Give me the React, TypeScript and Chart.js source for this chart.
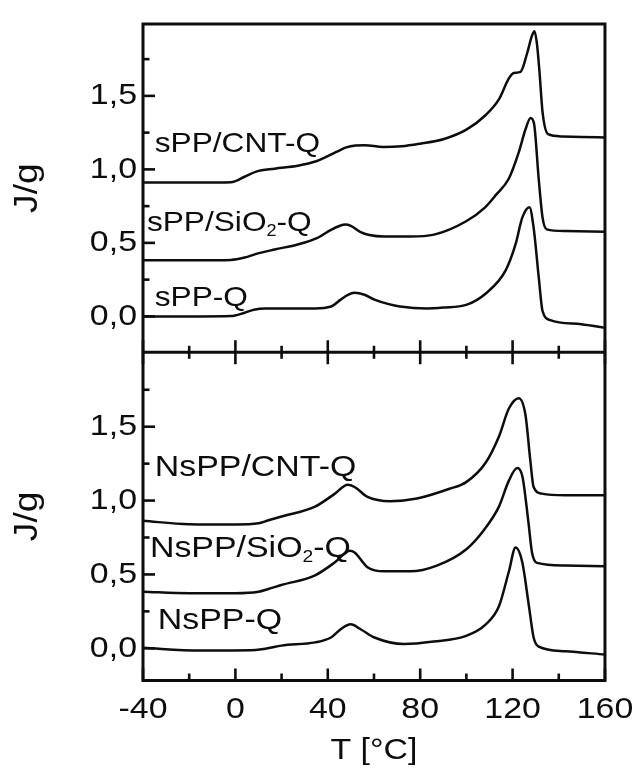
import React, { useEffect, useRef } from 'react';
import { Chart, registerables } from 'chart.js';

Chart.register(...registerables);

// ---------- axis ticks ----------
const xTickValues = [-40, 0, 40, 80, 120, 160];
const xTickLabels = ['-40', '0', '40', '80', '120', '160'];
const xMinorTicks = [-20, 20, 60, 100, 140];
const yTickValues = [0, 0.5, 1, 1.5];
const yTickLabels = ['0,0', '0,5', '1,0', '1,5'];
const yMinorTicks = [0.25, 0.75, 1.25, 1.75];

// ---------- top panel ----------
const sppCntT = [-40, -15, -2, 4, 9, 17, 27, 35, 40, 44, 48, 52, 56, 64, 72, 80, 90, 100, 108.4, 114, 118.4, 120.5, 123.4, 126.3, 128.4, 129.5, 130.5, 131.6, 133, 135.4, 141.3, 150, 160];
const sppCntY = [0.911, 0.911, 0.913, 0.95, 0.985, 1.005, 1.025, 1.055, 1.09, 1.12, 1.15, 1.163, 1.165, 1.152, 1.157, 1.175, 1.205, 1.27, 1.37, 1.474, 1.619, 1.656, 1.663, 1.79, 1.91, 1.94, 1.86, 1.674, 1.386, 1.239, 1.224, 1.22, 1.217];

const sppSiT = [-40, -15, -2, 4, 9, 17, 27, 35, 41.4, 45, 47.5, 50, 54, 58, 64.5, 75.6, 86, 99.9, 108, 113, 118.4, 122.7, 125.6, 127.8, 129.3, 131.3, 133, 134.8, 142.7, 160];
const sppSiY = [0.382, 0.382, 0.384, 0.4, 0.425, 0.455, 0.489, 0.53, 0.589, 0.615, 0.625, 0.616, 0.575, 0.553, 0.543, 0.543, 0.556, 0.647, 0.74, 0.83, 0.938, 1.117, 1.273, 1.35, 1.31, 0.938, 0.67, 0.592, 0.581, 0.576];

const sppT = [-40, -15, -2, 4, 8, 13, 34.5, 41.4, 45.6, 48.5, 51.6, 55.9, 60.2, 66, 71.3, 82.9, 90, 99.9, 108.4, 117, 121.3, 124.2, 127.3, 129.1, 131.3, 133, 136.3, 149.8, 160];
const sppY = [0, 0, 0.002, 0.025, 0.045, 0.054, 0.054, 0.067, 0.114, 0.145, 0.161, 0.147, 0.114, 0.085, 0.067, 0.054, 0.06, 0.078, 0.156, 0.313, 0.491, 0.672, 0.743, 0.605, 0.27, 0.035, -0.025, -0.054, -0.077];

// ---------- bottom panel ----------
const nsppCntT = [-40, -20, 0, 10, 14, 20, 34.5, 43.1, 48.6, 51.6, 57.2, 67, 78.6, 92.7, 99.9, 108.4, 114.1, 118.4, 122.7, 125.6, 127.7, 129.1, 132.7, 142.7, 160];
const nsppCntY = [0.863, 0.84, 0.838, 0.846, 0.865, 0.892, 0.959, 1.047, 1.107, 1.092, 1.025, 0.996, 1.014, 1.08, 1.125, 1.258, 1.434, 1.623, 1.693, 1.578, 1.268, 1.092, 1.047, 1.036, 1.036];

const nsppSiT = [-40, -20, 0, 10, 14, 19.9, 34.5, 43.1, 49.5, 51.6, 57.2, 64.5, 75.6, 87.2, 100, 107.7, 114.1, 118.4, 122, 124.3, 126.9, 128.4, 130.6, 142.7, 160];
const nsppSiY = [0.383, 0.373, 0.373, 0.383, 0.4, 0.428, 0.494, 0.582, 0.66, 0.649, 0.549, 0.521, 0.521, 0.56, 0.671, 0.803, 0.959, 1.135, 1.22, 1.16, 0.848, 0.649, 0.578, 0.56, 0.556];

const nsppT = [-40, -15.6, 8.8, 14, 19.9, 34.5, 41.4, 45.6, 49.9, 54.2, 60.2, 73, 85.9, 99.9, 108.4, 114.1, 118.4, 121.3, 124.2, 127, 129.1, 131.3, 142.7, 160];
const nsppY = [0.003, -0.015, -0.011, 0, 0.018, 0.04, 0.073, 0.129, 0.162, 0.129, 0.073, 0.029, 0.046, 0.084, 0.162, 0.284, 0.52, 0.682, 0.582, 0.295, 0.073, 0.011, -0.02, -0.042];

// ---------- curve labels ----------
const labelParts = [
  ['sPP/CNT-Q'],
  ['sPP/SiO', '2', '-Q'],
  ['sPP-Q'],
  ['NsPP/CNT-Q'],
  ['NsPP/SiO', '2', '-Q'],
  ['NsPP-Q'],
];
const labelT = [-34.9, -38.3, -34.9, -34.9, -37.0, -33.6];
const labelV = [1.119, 0.584, 0.069, 1.163, 0.617, 0.131];
const labelAxis = ['yTop', 'yTop', 'yTop', 'yBot', 'yBot', 'yBot'];
const labelSize = [28, 28, 28, 30, 30, 30];

const INK = '#0d0d0d';
const FONT = '"Liberation Sans", Arial, Helvetica, sans-serif';
const TEXT_STRETCH = 1.13;

function pts(t: number[], y: number[]) {
  return t.map((v, i) => ({ x: v, y: y[i] }));
}

function stretchText(ctx: CanvasRenderingContext2D) {
  const anyCtx = ctx as any;
  if (anyCtx.__stretched) return;
  const orig = CanvasRenderingContext2D.prototype.fillText;
  anyCtx.fillText = function (text: string, x: number, y: number, maxWidth?: number) {
    ctx.save();
    ctx.translate(x, y);
    ctx.scale(TEXT_STRETCH, 1);
    if (maxWidth !== undefined && maxWidth !== null) {
      orig.call(ctx, text, 0, 0, maxWidth / TEXT_STRETCH);
    } else {
      orig.call(ctx, text, 0, 0);
    }
    ctx.restore();
  };
  anyCtx.__stretched = true;
}

const framePlugin = {
  id: 'frame',
  afterDraw(chart: any) {
    const ctx: CanvasRenderingContext2D = chart.ctx;
    const { left, right, top, bottom } = chart.chartArea;
    const xs = chart.scales.x;
    const yT = chart.scales.yTop;
    const yB = chart.scales.yBot;
    const mid = yT.bottom < yB.bottom ? yT.bottom : yB.bottom;
    const line = (x1: number, y1: number, x2: number, y2: number) => {
      ctx.beginPath();
      ctx.moveTo(x1, y1);
      ctx.lineTo(x2, y2);
      ctx.stroke();
    };
    ctx.save();
    ctx.strokeStyle = INK;
    ctx.lineWidth = 3;
    ctx.lineCap = 'butt';
    ctx.strokeRect(left, top, right - left, bottom - top);
    line(left, mid, right, mid);
    ctx.lineWidth = 2.6;
    xTickValues.forEach((v) => {
      const px = xs.getPixelForValue(v);
      line(px, bottom, px, bottom - 12);
      line(px, mid - 12, px, mid + 12);
    });
    xMinorTicks.forEach((v) => {
      const px = xs.getPixelForValue(v);
      line(px, bottom, px, bottom - 7);
      line(px, mid - 6.5, px, mid + 6.5);
    });
    [yT, yB].forEach((s: any) => {
      yTickValues.forEach((v) => {
        const py = s.getPixelForValue(v);
        line(left, py, left + 12, py);
      });
      yMinorTicks.forEach((v) => {
        const py = s.getPixelForValue(v);
        line(left, py, left + 6.5, py);
      });
    });
    // curve labels
    ctx.fillStyle = INK;
    ctx.textAlign = 'left';
    ctx.textBaseline = 'alphabetic';
    labelParts.forEach((parts, i) => {
      const s = chart.scales[labelAxis[i]];
      let px = xs.getPixelForValue(labelT[i]);
      const py = s.getPixelForValue(labelV[i]);
      const size = labelSize[i];
      parts.forEach((p, j) => {
        const isSub = parts.length === 3 && j === 1;
        const fs = isSub ? Math.round(size * 0.58) : size;
        ctx.font = `${fs}px ${FONT}`;
        ctx.fillText(p, px, isSub ? py + 5 : py);
        px += ctx.measureText(p).width * TEXT_STRETCH;
      });
    });
    ctx.restore();
  },
};

export default function App() {
  const canvasRef = useRef<HTMLCanvasElement | null>(null);

  useEffect(() => {
    const canvas = canvasRef.current;
    if (!canvas) return;
    const ctx = canvas.getContext('2d') as CanvasRenderingContext2D;
    stretchText(ctx);

    const lineDs = (label: string, t: number[], y: number[], axis: string) => ({
      label,
      data: pts(t, y),
      yAxisID: axis,
      borderColor: INK,
      borderWidth: 2.5,
      pointRadius: 0,
      fill: false,
      cubicInterpolationMode: 'monotone' as const,
    });

    const yAxis = (min: number, max: number) => ({
      type: 'linear' as const,
      position: 'left' as const,
      stack: 'panels',
      stackWeight: 1,
      min,
      max,
      grid: { display: false, drawTicks: false, tickLength: 0 },
      border: { display: false },
      afterBuildTicks: (scale: any) => {
        scale.ticks = yTickValues.map((v) => ({ value: v }));
      },
      afterFit: (scale: any) => {
        scale.width = 143;
      },
      ticks: {
        color: INK,
        padding: 6,
        font: { family: FONT, size: 30 },
        callback: (value: any) => {
          const i = yTickValues.indexOf(Number(value));
          return i >= 0 ? yTickLabels[i] : '';
        },
      },
      title: {
        display: true,
        text: 'J/g',
        color: INK,
        font: { family: FONT, size: 33 },
        padding: { top: 8, bottom: 0 },
      },
    });

    const chart = new Chart(ctx, {
      type: 'line',
      data: {
        datasets: [
          lineDs('sPP/CNT-Q', sppCntT, sppCntY, 'yTop'),
          lineDs('sPP/SiO2-Q', sppSiT, sppSiY, 'yTop'),
          lineDs('sPP-Q', sppT, sppY, 'yTop'),
          lineDs('NsPP/CNT-Q', nsppCntT, nsppCntY, 'yBot'),
          lineDs('NsPP/SiO2-Q', nsppSiT, nsppSiY, 'yBot'),
          lineDs('NsPP-Q', nsppT, nsppY, 'yBot'),
        ],
      },
      options: {
        animation: false,
        responsive: true,
        maintainAspectRatio: false,
        layout: { padding: { top: 13, right: 30, left: 0, bottom: 0 } },
        plugins: {
          legend: { display: false },
          tooltip: { enabled: false },
        },
        scales: {
          x: {
            type: 'linear',
            position: 'bottom',
            min: -40,
            max: 160,
            grid: { display: false, drawTicks: false, tickLength: 0 },
            border: { display: false },
            afterBuildTicks: (scale: any) => {
              scale.ticks = xTickValues.map((v) => ({ value: v }));
            },
            afterFit: (scale: any) => {
              scale.height = 88.5;
            },
            ticks: {
              color: INK,
              padding: 11,
              autoSkip: false,
              maxRotation: 0,
              font: { family: FONT, size: 30 },
              callback: (value: any) => {
                const i = xTickValues.indexOf(Number(value));
                return i >= 0 ? xTickLabels[i] : '';
              },
            },
            title: {
              display: true,
              text: 'T [°C]',
              color: INK,
              font: { family: FONT, size: 30 },
              padding: { top: 0, bottom: 0 },
            },
          },
          yBot: yAxis(-0.218, 2.004),
          yTop: yAxis(-0.244, 1.989),
        } as any,
      },
      plugins: [framePlugin],
    });

    return () => {
      chart.destroy();
    };
  }, []);

  return (
    <div style={{ position: 'absolute', left: 0, top: 0, width: 641, height: 769, background: '#ffffff' }}>
      <canvas ref={canvasRef} />
    </div>
  );
}
